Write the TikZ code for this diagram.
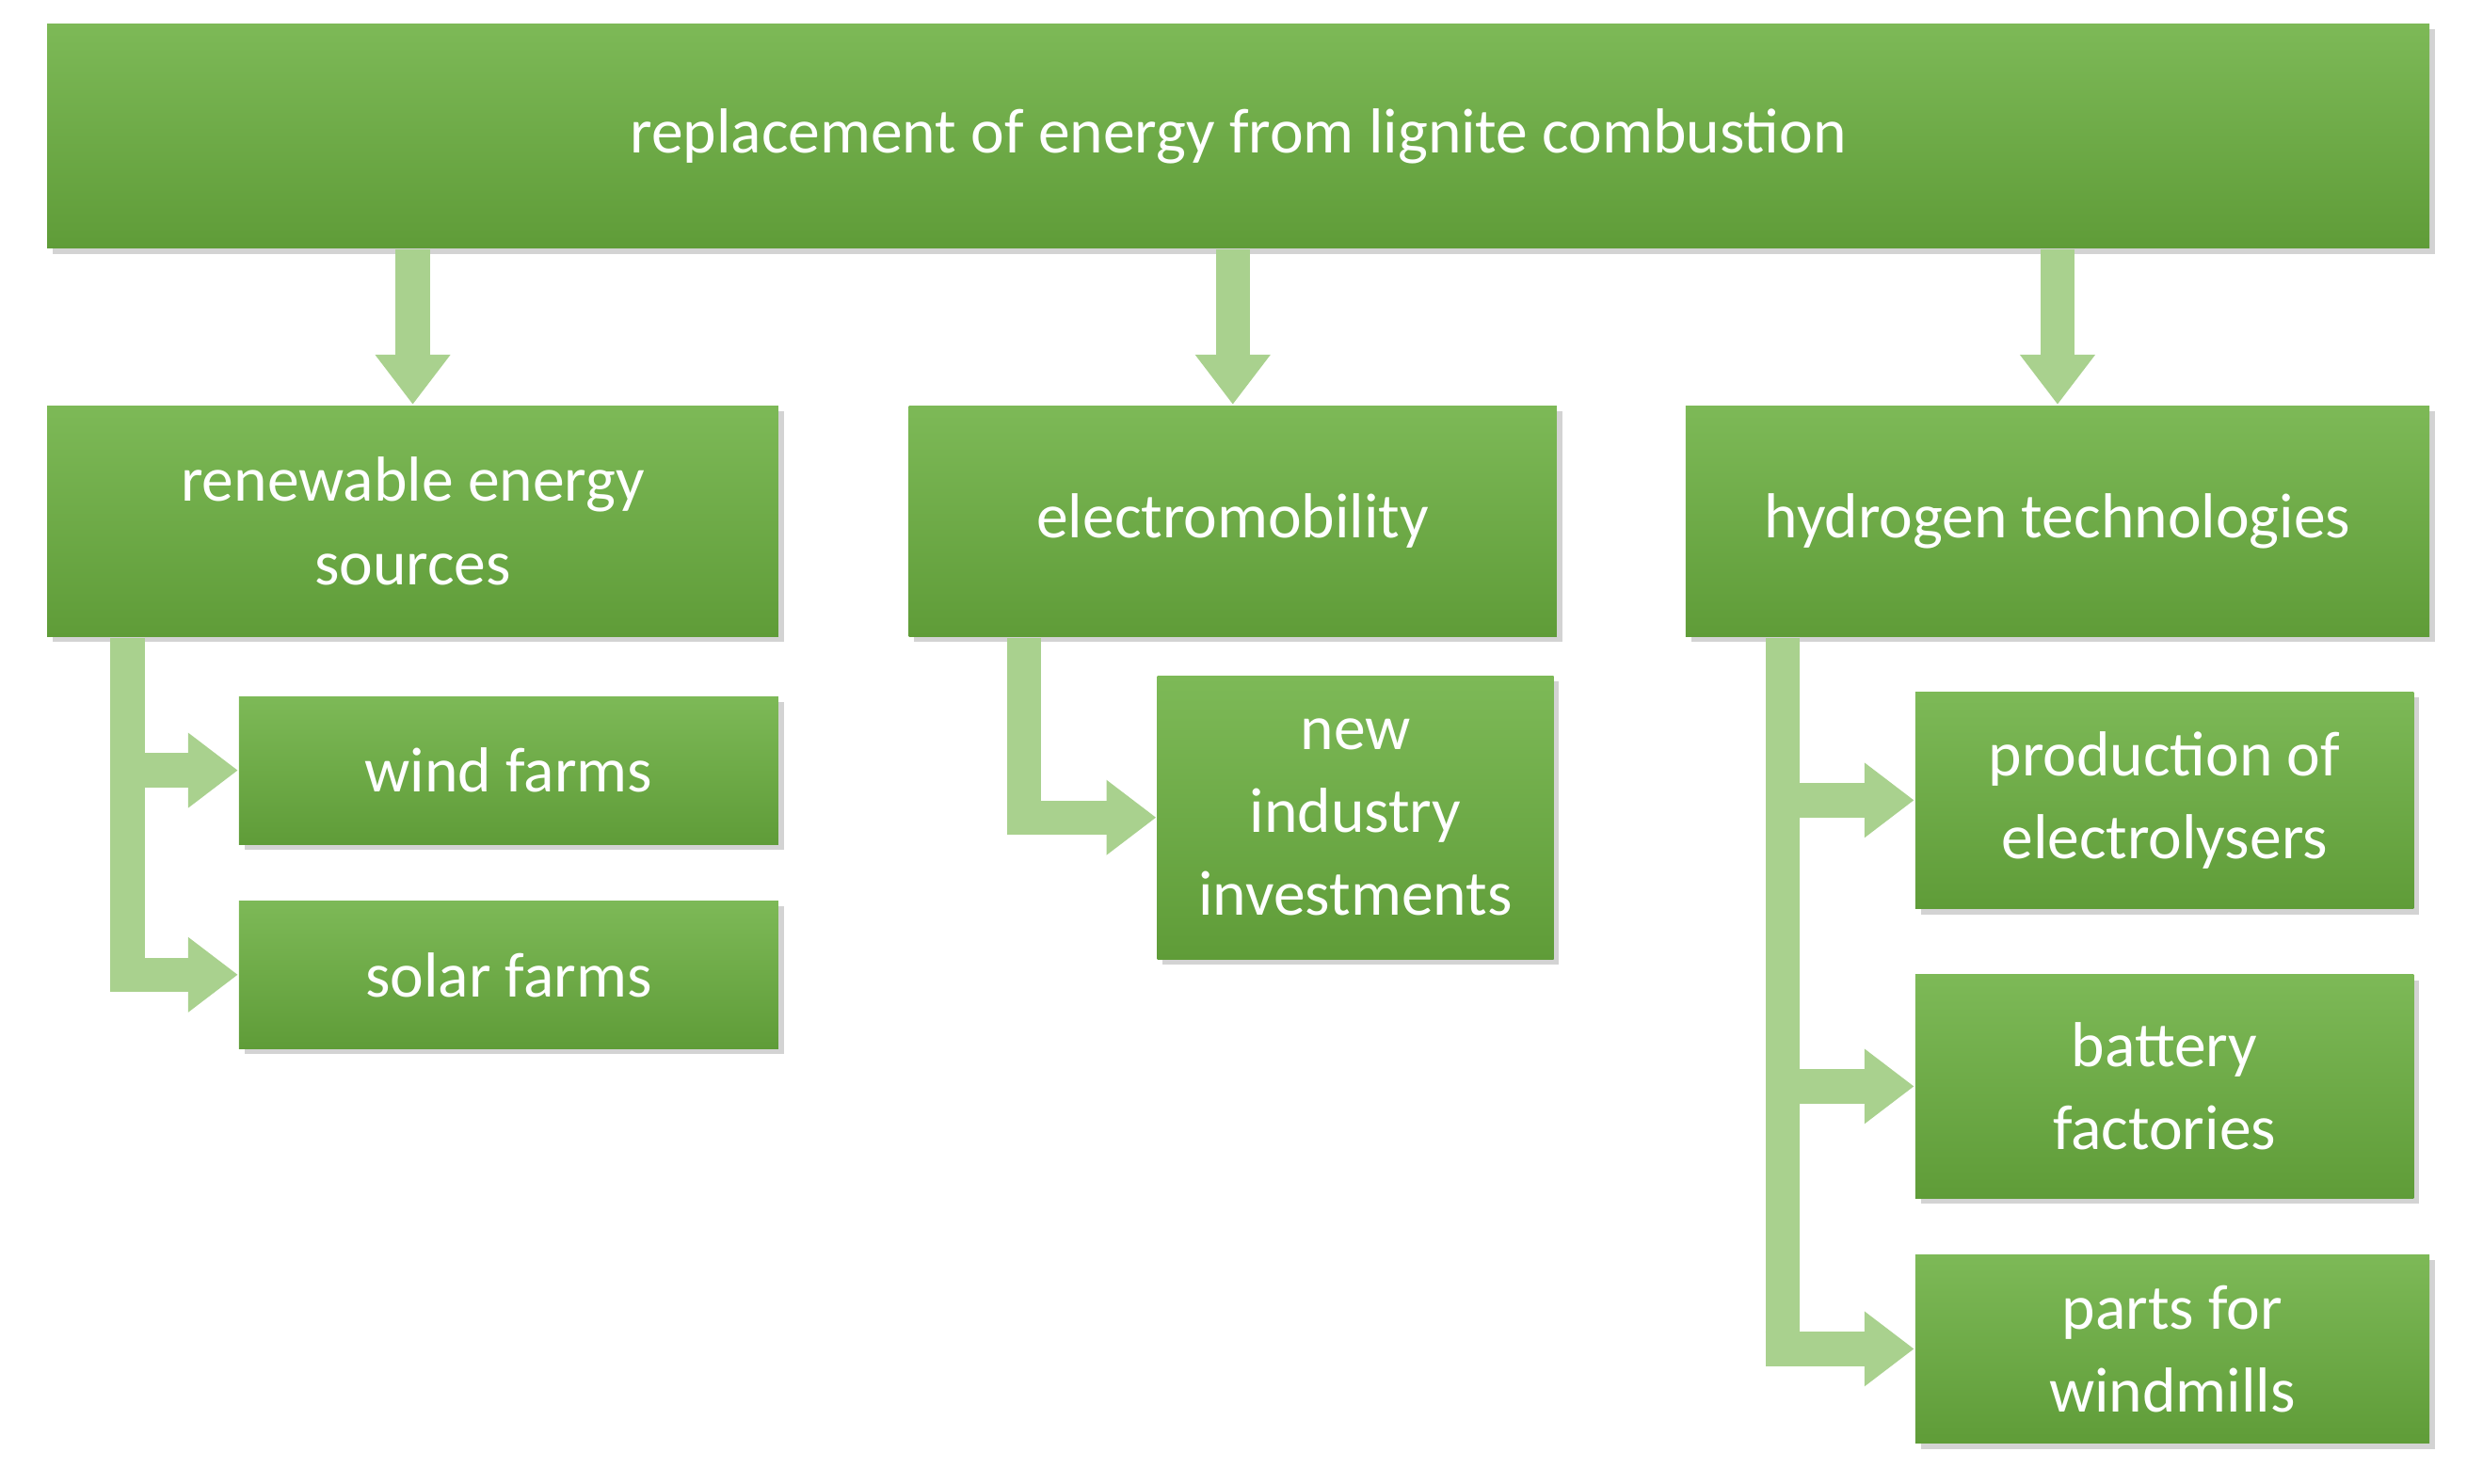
\documentclass[tikz,border=0pt]{standalone}
\usepackage{fontspec}
\setmainfont{Carlito}
\usetikzlibrary{arrows.meta,shadows,calc}
\definecolor{gtop}{HTML}{7DB957}
\definecolor{gbot}{HTML}{5F9C38}
\definecolor{arr}{HTML}{A9D18E}
\tikzset{
 box/.style={draw=none,top color=gtop,bottom color=gbot,text=white,align=center,
   font=\fontsize{11.5}{15}\selectfont,drop shadow={shadow xshift=1pt,shadow yshift=-1pt,opacity=0.35},inner sep=0pt},
 ar/.style={draw=arr,line width=6.2pt,-{Triangle[width=13pt,length=9pt]}},
 bar/.style={draw=arr,line width=6.2pt},
}
\newcommand{\bx}[6]{\node[box,minimum width=#4*0.01cm-#2*0.01cm,minimum height=#5*0.01cm-#3*0.01cm] (#1) at ({(#2+#4)/2*0.01cm},{-(#3+#5)/2*0.01cm}) {#6};}
\begin{document}
\begin{tikzpicture}
\useasboundingbox (0,0) rectangle (15.68,-9.43);
\bx{top}{30}{15}{1545}{158}{replacement of energy from lignite combustion}
\bx{res}{30}{258}{495}{405}{renewable energy\\sources}
\bx{ele}{578}{258}{990}{405}{electromobility}
\bx{hyd}{1072}{258}{1545}{405}{hydrogen technologies}
\bx{wind}{152}{443}{495}{537}{wind farms}
\bx{solar}{152}{573}{495}{667}{solar farms}
\bx{new}{736}{430}{988}{610}{new\\industry\\investments}
\bx{prod}{1218}{440}{1535}{578}{production of\\electrolysers}
\bx{bat}{1218}{620}{1535}{762}{battery\\factories}
\bx{parts}{1218}{798}{1545}{918}{parts for\\windmills}
% down arrows
\draw[ar] (top.south -| res.north) ++(0,0) coordinate (a1) -- (res.north);
\draw[ar] (top.south -| ele.north) -- (ele.north);
\draw[ar] (top.south -| hyd.north) -- (hyd.north);
% res branches
\coordinate (rb) at (0.81,0);
\draw[bar] (res.south -| rb) -- ($(solar.west -| rb)+(0,-0.11)$);
\draw[ar] ($(wind.west -| rb)+(0.11,0)$) -- (wind.west);
\draw[ar] ($(solar.west -| rb)+(-0.11,0)$) -- (solar.west);
% ele
\coordinate (eb) at (6.51,0);
\draw[bar] (ele.south -| eb) -- ($(new.west -| eb)+(0,-0.11)$);
\draw[ar] ($(new.west -| eb)+(-0.11,0)$) -- (new.west);
% hyd
\coordinate (hb) at (11.33,0);
\draw[bar] (hyd.south -| hb) -- ($(parts.west -| hb)+(0,-0.11)$);
\draw[ar] ($(prod.west -| hb)+(0.11,0)$) -- (prod.west);
\draw[ar] ($(bat.west -| hb)+(0.11,0)$) -- (bat.west);
\draw[ar] ($(parts.west -| hb)+(-0.11,0)$) -- (parts.west);
\end{tikzpicture}
\end{document}
